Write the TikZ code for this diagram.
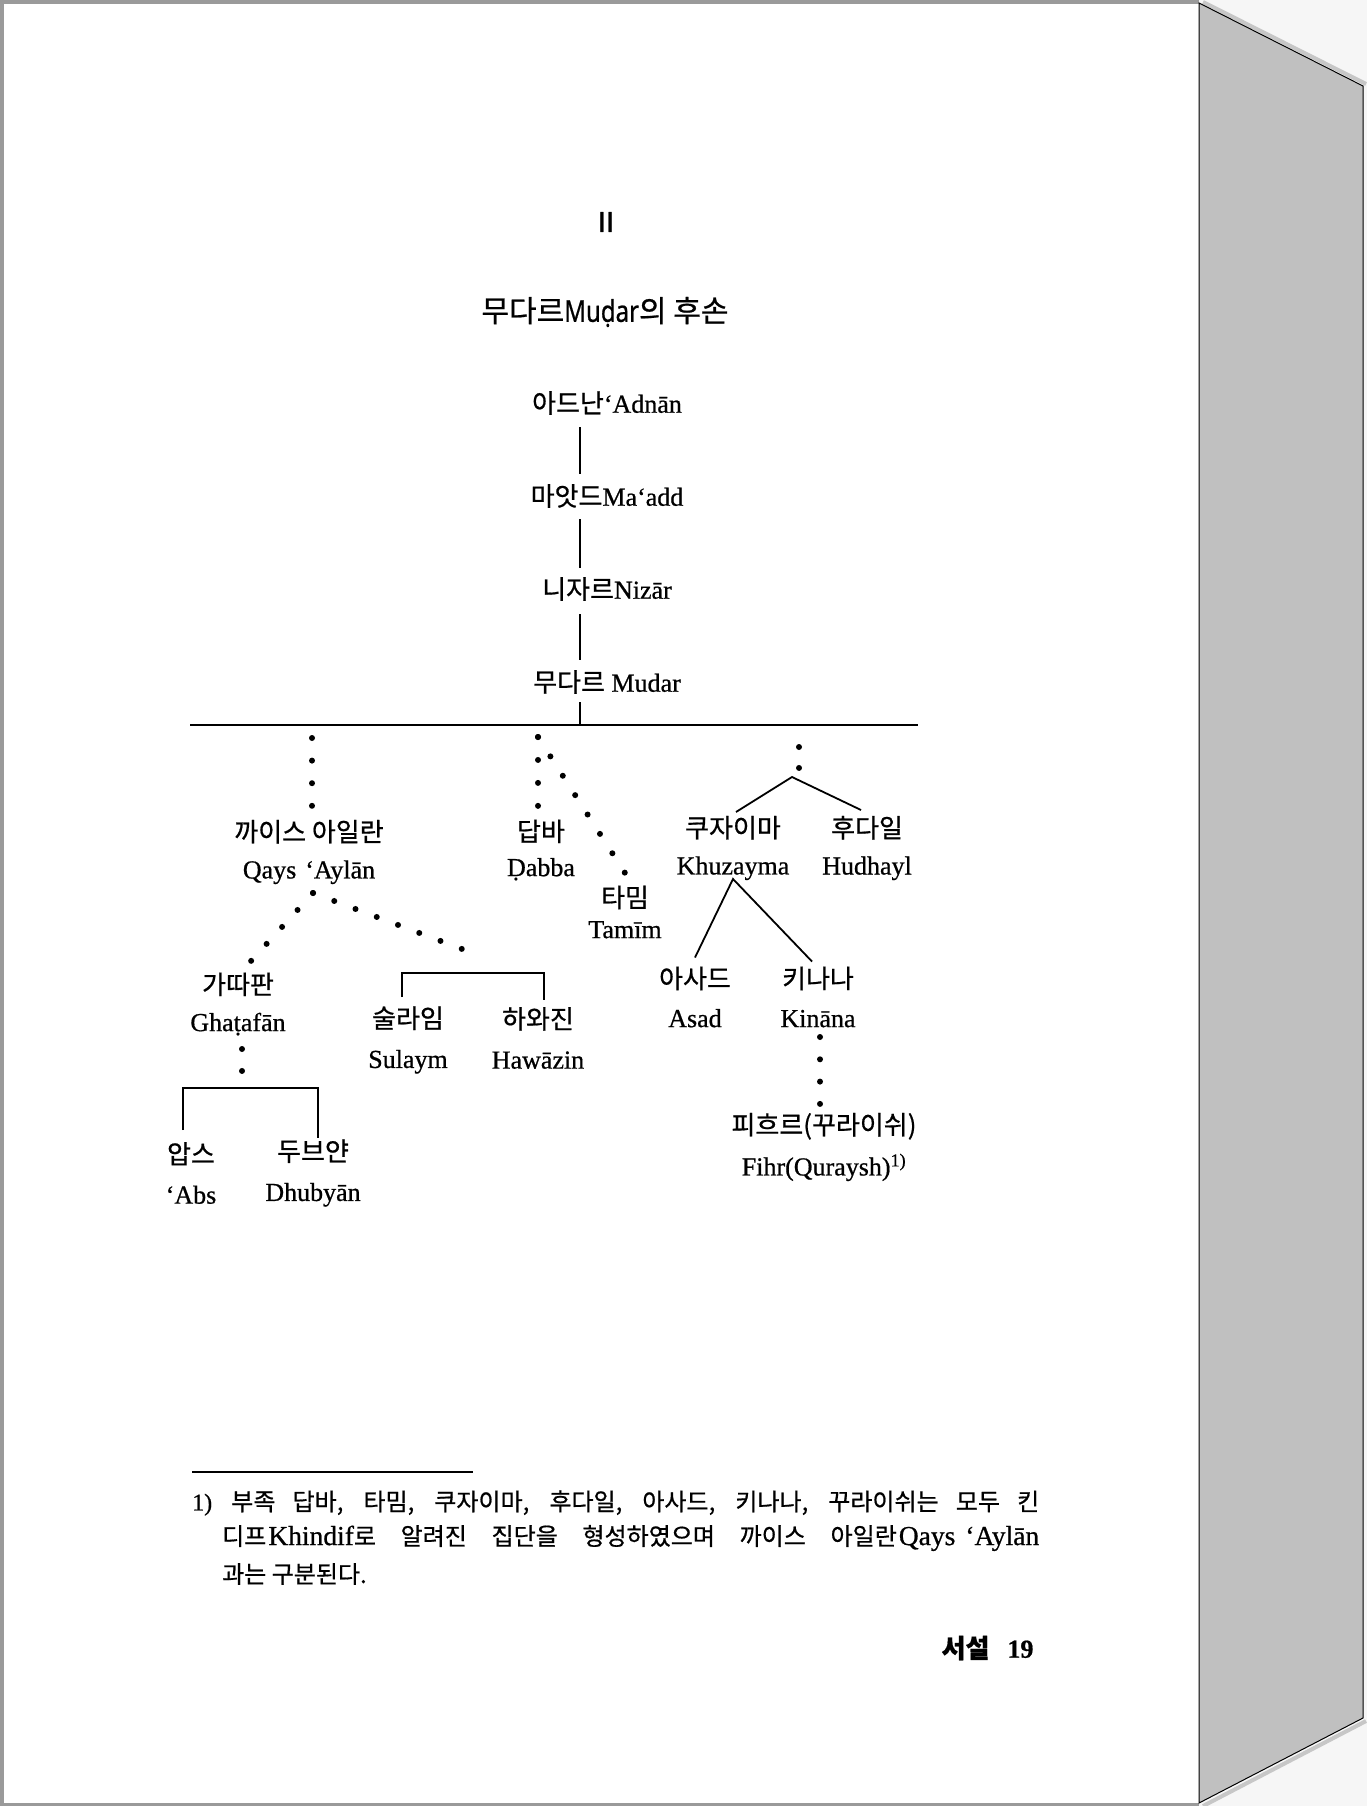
\documentclass[tikz,border=0pt]{standalone}
\usepackage{fontspec}
\setmainfont[FakeBold=0.7]{Liberation Serif}
\newfontfamily\kr[Scale=1.0, FakeBold=0.7]{Noto Sans CJK KR}
\newfontfamily\titlesans[FakeStretch=0.8, FakeBold=0.6]{Noto Sans}
\newfontfamily\partsans[FakeBold=1]{Liberation Sans}
\usetikzlibrary{positioning}
\definecolor{sidegray}{HTML}{C0C0C0}
\definecolor{outside}{HTML}{F6F6F6}
\definecolor{rim}{HTML}{9A9A9A}
\tikzstyle{link} = [line width=1.8pt]
\tikzstyle{fnote} = [anchor=west, inner sep=0pt, font=\fontsize{24}{30}\selectfont]
\tikzset{tribe/.style={align=center, inner sep=0pt, font=\fontsize{26}{#1}\selectfont},
  tribe/.default=37,
  dots/.style={line width=6pt, line cap=round, dash pattern=on 0pt off #1}}
\newcommand{\ko}[1]{{\kr #1}}
\newcommand{\fnlat}[1]{{\fontsize{27.5}{30}\selectfont #1}}

\begin{document}
\begin{tikzpicture}[x=1pt, y=-1pt, node distance=93pt]
  % page and the gray edge of the book
  \useasboundingbox (0,0) rectangle (1367,1806);
  \fill[outside] (0,0) rectangle (1367,1806);
  \fill[white] (0,0) rectangle (1199,1806);
  \draw[rim, line width=4pt] (2,1806) -- (2,2) -- (1199,2);
  \draw[rim, line width=3pt] (0,1804.5) -- (1199,1804.5);
  \draw[black!22, line width=4pt] (1203,2) -- (1366,84);
  \draw[black!22, line width=4pt] (1203,1806) -- (1366,1721);
  \filldraw[fill=sidegray, draw=black, line width=1pt] (1199,3) -- (1363,86) -- (1363,1718) -- (1199,1803) -- cycle;

  % heading
  \node[font=\partsans\fontsize{29}{30}\selectfont] (part) at (606,222) {II};
  \node[font=\fontsize{30}{32}\selectfont] (title) at (605,312) {\ko{무다르}{\titlesans Muḍar}\ko{의 후손}};

  % line of descent down to Mudar
  \node[tribe] (adnan) at (607,403) {\ko{아드난}‘Adnān};
  \node[tribe, below of=adnan] (maadd) {\ko{마앗드}Ma‘add};
  \node[tribe, below of=maadd] (nizar) {\ko{니자르}Nizār};
  \node[tribe, below of=nizar] (mudar) {\ko{무다르} Mudar};
  \draw[link] ([xshift=-27pt,yshift=-24pt]adnan.center) -- ([xshift=-27pt,yshift=22pt]maadd.center);
  \draw[link] ([xshift=-27pt,yshift=-23pt]maadd.center) -- ([xshift=-27pt,yshift=21pt]nizar.center);
  \draw[link] ([xshift=-27pt,yshift=-25pt]nizar.center) -- ([xshift=-27pt,yshift=22pt]mudar.center);

  % the bar under Mudar
  \coordinate (bar-w) at (190,725);
  \coordinate (bar-e) at (918,725);
  \coordinate (split) at (580,725);
  \draw[link] (bar-w) -- (bar-e);
  \draw[link] (split) -- ([xshift=-27pt,yshift=-20pt]mudar.center);

  % Qays 'Aylan branch
  \node[tribe] (qays) at (309,852) {\ko{까이스 아일란}\\Qays\hspace{9pt}‘Aylān};
  \node[tribe] (ghatafan) at (238,1004) {\ko{가따판}\\Ghaṭafān};
  \node[tribe=40] (abs) at (191,1173) {\ko{압스}\\‘Abs};
  \node[tribe=40] (dhubyan) at (313,1173) {\ko{두브얀}\\Dhubyān};
  \node[tribe=40] (sulaym) at (408,1040) {\ko{술라임}\\Sulaym};
  \node[tribe=40] (hawazin) at (538,1038) {\ko{하와진}\\Hawāzin};
  \coordinate (qays-up) at (312,738);
  \coordinate (qays-dn) at (312,806);
  \coordinate (qays-fork) at (313,893);
  \coordinate (ghat-end) at (251,961);
  \coordinate (sul-end) at (462,949);
  \coordinate (ghat-up) at (242,1049);
  \coordinate (ghat-dn) at (242,1071);
  \draw[dots=22.6pt] (qays-up) -- (qays-dn);
  \draw[dots=22.95pt] (qays-fork) -- (ghat-end);
  \draw[dots=22.7pt] (qays-fork) -- (sul-end);
  \draw[dots=21.95pt] (ghat-up) -- (ghat-dn);
  \draw[link] ([xshift=-8pt,yshift=43pt]abs.center) |- ([xshift=5pt,yshift=85pt]dhubyan.center)
    -- ([xshift=5pt,yshift=35pt]dhubyan.center);
  \draw[link] ([xshift=-6pt,yshift=43pt]sulaym.center) |- ([xshift=6pt,yshift=65pt]hawazin.center)
    -- ([xshift=6pt,yshift=38pt]hawazin.center);

  % Dabba and Tamim
  \node[tribe=35] (dabba) at (541,850) {\ko{답바}\\Ḍabba};
  \node[tribe=31] (tamim) at (625,912) {\ko{타밈}\\Tamīm};
  \coordinate (dab-up) at (538,737);
  \coordinate (dab-dn) at (538,806);
  \coordinate (tam-end) at (625,873);
  \draw[dots=22.95pt] (dab-up) -- (dab-dn);
  \draw[dots=23pt] (dab-up) -- (tam-end);

  % Khuzayma, Hudhayl and their line
  \node[tribe] (khuzayma) at (733,848) {\ko{쿠자이마}\\Khuzayma};
  \node[tribe] (hudhayl) at (867,848) {\ko{후다일}\\Hudhayl};
  \node[tribe=39] (asad) at (695,997) {\ko{아사드}\\Asad};
  \node[tribe=39] (kinana) at (818,997) {\ko{키나나}\\Kināna};
  \node[tribe=41] (fihr) at (824,1147) {\ko{피흐르(꾸라이쉬)}\\Fihr(Quraysh)\textsuperscript{1)}};
  \coordinate (khu-up) at (799,747);
  \coordinate (khu-dn) at (799,768);
  \coordinate (khu-fork) at (792,777);
  \coordinate (kin-up) at (820,1037);
  \coordinate (kin-dn) at (820,1104);
  \draw[dots=20.95pt] (khu-up) -- (khu-dn);
  \draw[link] ([xshift=3pt,yshift=36pt]khuzayma.center) -- (khu-fork) -- ([xshift=-6pt,yshift=38pt]hudhayl.center);
  \draw[link] ([yshift=39.5pt]asad.center) -- ([yshift=-31pt]khuzayma.center) -- ([xshift=-6pt,yshift=35.5pt]kinana.center);
  \draw[dots=22.3pt] (kin-up) -- (kin-dn);

  % footnote
  \coordinate (rule-w) at (192,1472);
  \coordinate (rule-e) at (473,1472);
  \draw[link] (rule-w) -- (rule-e);
  \node[fnote] (fn1) at (192,1503) {\makebox[847pt][s]{1) \ko{부족 답바, 타밈, 쿠자이마, 후다일, 아사드, 키나나, 꾸라이쉬는 모두 킨}}};
  \node[fnote] (fn2) at (222,1538) {\makebox[817pt][s]{\ko{디프}\kern2pt\fnlat{Khindif}\ko{로 알려진 집단을 형성하였으며 까이스 아일란}\kern2pt\fnlat{Qays\kern10pt‘Aylān}}};
  \node[fnote] (fn3) at (222,1574) {\ko{과는 구분된다.}};

  % page number
  \node[anchor=east, font=\fontsize{26}{30}\selectfont\bfseries] (folio) at (1037,1648) {\ko{서설}\hspace{18pt}19};
\end{tikzpicture}
\end{document}
